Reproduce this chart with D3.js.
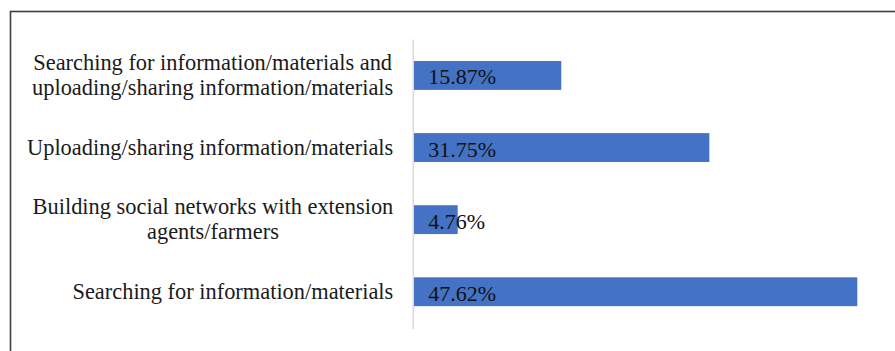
<!DOCTYPE html>
<html>
<head>
<meta charset="utf-8">
<script src="https://cdn.jsdelivr.net/npm/d3@7"></script>
<style>
  body { margin: 0; background: #fff; }
  #chart { width: 895px; height: 351px; }
  svg text { font-family: "Liberation Serif", "Times New Roman", serif; }
</style>
</head>
<body>
<div id="chart"></div>
<script>
const categories = [
  ["Searching for information/materials and", "uploading/sharing information/materials"],
  ["Uploading/sharing information/materials"],
  ["Building social networks with extension", "agents/farmers"],
  ["Searching for information/materials"],
];
const values = [15.87, 31.75, 4.76, 47.62];
const valueLabels = ["15.87%", "31.75%", "4.76%", "47.62%"];

class ActivityBars {
  constructor(container) {
    this.w = 895;
    this.h = 351;
    this.padding = { t: 39.4, b: 23.2, s: 413.3, e: 15.5 };
    this.fontSize = 22.4;
    this.svg = d3.select(container).append("svg").attr("width", this.w).attr("height", this.h);
  }
  draw = () => {
    const idx = values.map((d, i) => i);
    const yScale = d3
      .scaleBand()
      .domain(idx)
      .range([this.padding.t, this.h - this.padding.b])
      .paddingInner(0.6)
      .paddingOuter(0.3);
    const xScale = d3
      .scaleLinear()
      .domain([0, 50])
      .range([this.padding.s, this.w - this.padding.e]);

    // outer frame (right and bottom edges fall outside the picture)
    this.svg.append("rect").attr("x", 10.5).attr("y", 11.5).attr("width", 900).attr("height", 400).attr("fill", "none").attr("stroke", "#3f3f3f").attr("stroke-width", 1.6);

    this.svg
      .append("g")
      .selectAll("rect")
      .data(values)
      .enter()
      .append("rect")
      .attr("x", xScale(0))
      .attr("y", (d, i) => yScale(i))
      .attr("width", (d) => xScale(d) - xScale(0))
      .attr("height", yScale.bandwidth())
      .attr("fill", "#4472C4");

    const yAxis = this.svg
      .append("g")
      .attr("transform", `translate(${xScale(0) - 0.5}, 0)`)
      .call(d3.axisLeft(yScale).tickSize(0).tickFormat(""));
    yAxis.select(".domain").attr("stroke", "#d9d9d9").attr("stroke-width", 1.5).attr("transform", "translate(0,-0.5) scale(1,1.004)");

    // category labels: lines centred in a block whose right edge sits left of the axis
    const lineH = 25;
    const labels = this.svg.append("g").attr("font-size", this.fontSize).attr("fill", "#1a1a1a");
    categories.forEach((lines, i) => {
      const cy = yScale(i) + yScale.bandwidth() / 2;
      const g = labels.append("g");
      const texts = lines.map((ln, j) =>
        g
          .append("text")
          .text(ln)
          .attr("y", cy + 7 + (j - (lines.length - 1) / 2) * lineH)
      );
      const widths = texts.map((t) => t.node().getComputedTextLength());
      const blockW = d3.max(widths);
      const right = xScale(0) - 20;
      texts.forEach((t) => t.attr("x", right - blockW / 2).attr("text-anchor", "middle"));
    });

    this.svg
      .append("g")
      .attr("font-size", 22)
      .attr("fill", "#111")
      .selectAll("text")
      .data(valueLabels)
      .enter()
      .append("text")
      .text((d) => d)
      .attr("x", xScale(0) + 15)
      .attr("y", (d, i) => yScale(i) + yScale.bandwidth() / 2 + 9);
  };
}

new ActivityBars("#chart").draw();
</script>
</body>
</html>
